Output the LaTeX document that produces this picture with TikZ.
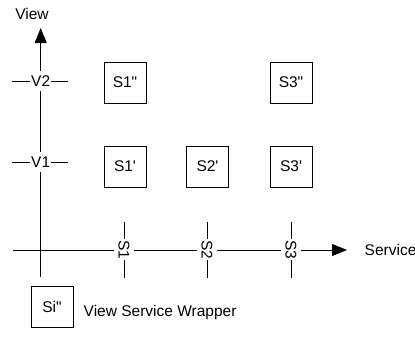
\documentclass[tikz,border=0pt]{standalone}
\usepackage{fontspec}
\newfontfamily\lsans{Liberation Sans}
\usetikzlibrary{arrows.meta}
\begin{document}
\begin{tikzpicture}[x=1pt,y=-1pt,
  font=\lsans\fontsize{15.5}{18}\selectfont,
  line width=0.8pt,
  wrapper/.style={draw, minimum width=42pt, minimum height=41pt, inner sep=0pt},
  ticklabel/.style={fill=white, inner xsep=1pt, inner ysep=0pt, minimum height=20pt},
  axisarrow/.style={-{Triangle[length=15pt,width=12pt]}}]
\useasboundingbox (0,0) rectangle (415,338);
% axes
\coordinate (vbot) at (40.7,277);
\coordinate (vtop) at (40.7,28);
\coordinate (hleft) at (13,250);
\coordinate (hright) at (347,250);
\draw[axisarrow] (vbot) -- (vtop);
\draw[axisarrow] (hleft) -- (hright);
\node[anchor=base] (viewlbl) at (32,19.5) {View};
\node[anchor=base west] (servicelbl) at (361,255.5) {Service};
% view ticks
\coordinate (v2l) at (12.3,81);
\coordinate (v2r) at (68.3,81);
\coordinate (v1l) at (12.3,162);
\coordinate (v1r) at (68.3,162);
\draw (v2l) -- (v2r);
\draw (v1l) -- (v1r);
\node[ticklabel] (v2) at (40.7,81) {V2};
\node[ticklabel] (v1) at (40.7,162) {V1};
% service ticks
\foreach \n/\x in {1/124,2/207,3/291}{
  \coordinate (s\n t) at (\x,222);
  \coordinate (s\n b) at (\x,277.5);
  \draw (s\n t) -- (s\n b);
  \node[ticklabel, rotate=-90] (s\n) at (\x,249.5) {S\n};
}
% wrappers
\node[wrapper] (s1pp) at (125,82.5) {S1"};
\node[wrapper] (s3pp) at (291,82.5) {S3"};
\node[wrapper] (s1p) at (125,166.5) {S1'};
\node[wrapper] (s2p) at (207.5,166.5) {S2'};
\node[wrapper] (s3p) at (291,166.5) {S3'};
% legend
\node[wrapper] (legend) at (52,307) {Si"};
\node[anchor=base west] (legendtxt) at (80,316) {View Service Wrapper};
\end{tikzpicture}
\end{document}
